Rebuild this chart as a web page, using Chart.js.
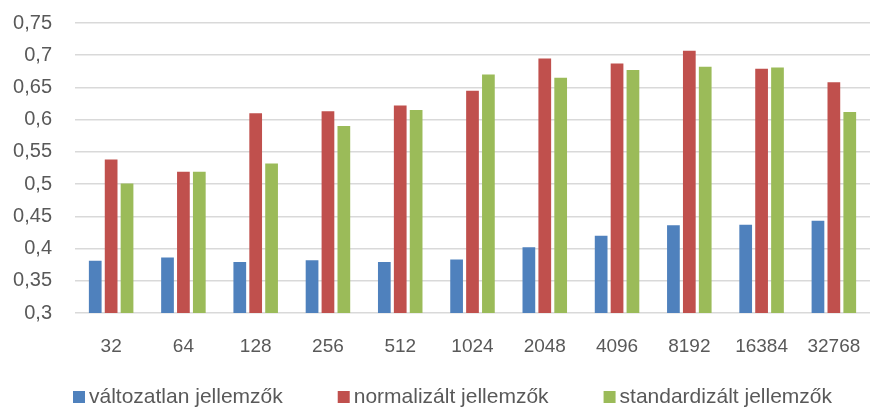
<!DOCTYPE html>
<html>
<head>
<meta charset="utf-8">
<script src="https://cdn.jsdelivr.net/npm/chart.js@4"></script>
<style>
  html, body { margin: 0; padding: 0; background: #fff; }
  #wrap { width: 870px; height: 408px; }
</style>
</head>
<body>
<div id="wrap"><canvas id="chart" width="870" height="408"></canvas></div>
<script>
// categories (feature count)
const categories = ['32', '64', '128', '256', '512', '1024', '2048', '4096', '8192', '16384', '32768'];

// series values
const valtozatlan = [0.381, 0.386, 0.379, 0.382, 0.379, 0.383, 0.402, 0.420, 0.436, 0.437, 0.443];
const normalizalt = [0.538, 0.519, 0.610, 0.613, 0.622, 0.645, 0.695, 0.687, 0.707, 0.679, 0.658];
const standardizalt = [0.501, 0.519, 0.532, 0.590, 0.615, 0.670, 0.665, 0.677, 0.682, 0.681, 0.612];

const seriesNames = ['változatlan jellemzők', 'normalizált jellemzők', 'standardizált jellemzők'];
const seriesColors = ['#4F81BD', '#C0504D', '#9BBB59'];

const yMin = 0.3;
const yMax = 0.75;
const yStep = 0.05;

const fontFamily = '"Liberation Sans", Arial, sans-serif';
const textColor = '#595959';

// legend row drawn under the axis, spread like the original one
const bottomLegend = {
  id: 'bottomLegend',
  afterDraw(chart) {
    const ctx = chart.ctx;
    ctx.save();
    ctx.font = '21px ' + fontFamily;
    ctx.textBaseline = 'middle';
    const box = 12;
    const items = chart.data.datasets.map(ds => ({
      text: ds.label,
      color: ds.backgroundColor,
      w: box + 4 + ctx.measureText(ds.label).width
    }));
    const left = 73, right = 832, y = 397;
    const total = items.reduce((s, it) => s + it.w, 0);
    const gap = (right - left - total) / (items.length - 1);
    let x = left;
    items.forEach(it => {
      ctx.fillStyle = it.color;
      ctx.fillRect(x, y - box / 2, box, box);
      ctx.fillStyle = textColor;
      ctx.fillText(it.text, x + box + 4, y);
      x += it.w + gap;
    });
    ctx.restore();
  }
};

const data = {
  labels: categories,
  datasets: seriesNames.map((name, i) => ({
    label: name,
    data: [valtozatlan, normalizalt, standardizalt][i],
    backgroundColor: seriesColors[i]
  }))
};

const config = {
  type: 'bar',
  data: data,
  plugins: [bottomLegend],
  options: {
    responsive: false,
    animation: false,
    datasets: {
      bar: { categoryPercentage: 0.66, barPercentage: 0.8 }
    },
    layout: { padding: { left: 0, right: 0, top: 0, bottom: 45 } },
    plugins: {
      tooltip: { enabled: false },
      legend: { display: false }
    },
    scales: {
      x: {
        grid: { display: false },
        border: { display: false },
        afterFit: axis => {
          axis.height = 50;
          axis.paddingLeft = 0;
          axis.paddingRight = 0;
        },
        ticks: {
          color: textColor,
          padding: 14,
          maxRotation: 0,
          font: { family: fontFamily, size: 19 }
        }
      },
      y: {
        min: yMin,
        max: yMax,
        border: { display: false },
        afterFit: axis => {
          axis.width = 75;
          axis.paddingTop = 23;
          axis.paddingBottom = 0;
        },
        grid: { color: '#D9D9D9', lineWidth: 1.5, drawTicks: false },
        ticks: {
          stepSize: yStep,
          color: textColor,
          padding: 23,
          font: { family: fontFamily, size: 20 },
          callback: v => Number(v.toFixed(2)).toString().replace('.', ',')
        }
      }
    }
  }
};

new Chart(document.getElementById('chart'), config);
</script>
</body>
</html>
